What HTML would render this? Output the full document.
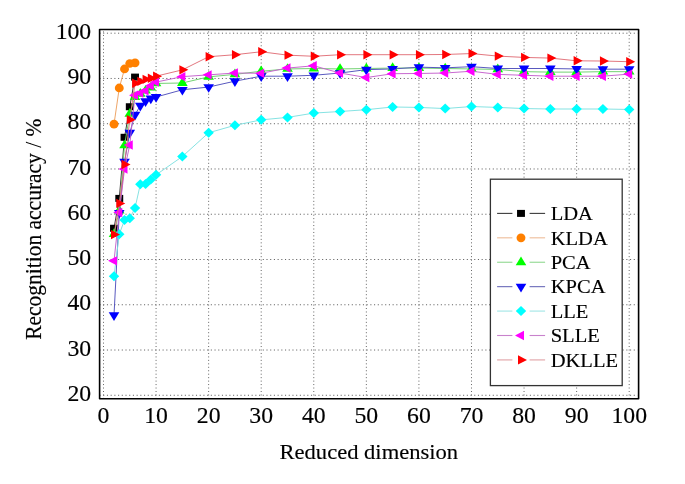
<!DOCTYPE html>
<html><head><meta charset="utf-8"><title>Recognition accuracy chart</title>
<style>html,body{margin:0;padding:0;background:#fff;width:685px;height:484px;overflow:hidden}svg{display:block;will-change:transform}text{font-family:"Liberation Serif",serif;fill:#000;stroke:#000;stroke-width:0.15px}</style></head><body>
<svg width="685" height="484" viewBox="0 0 685 484">
<rect width="685" height="484" fill="#fff"/>
<g stroke="#646464" stroke-width="1" fill="none">
<line x1="103.5" y1="398.9" x2="103.5" y2="30.5" stroke-dasharray="1 2.457"/>
<line x1="156.07" y1="398.9" x2="156.07" y2="30.5" stroke-dasharray="1 2.457"/>
<line x1="208.64" y1="398.9" x2="208.64" y2="30.5" stroke-dasharray="1 2.457"/>
<line x1="261.21" y1="398.9" x2="261.21" y2="30.5" stroke-dasharray="1 2.457"/>
<line x1="313.78" y1="398.9" x2="313.78" y2="30.5" stroke-dasharray="1 2.457"/>
<line x1="366.35" y1="398.9" x2="366.35" y2="30.5" stroke-dasharray="1 2.457"/>
<line x1="418.92" y1="398.9" x2="418.92" y2="30.5" stroke-dasharray="1 2.457"/>
<line x1="471.49" y1="398.9" x2="471.49" y2="30.5" stroke-dasharray="1 2.457"/>
<line x1="524.06" y1="398.9" x2="524.06" y2="30.5" stroke-dasharray="1 2.457"/>
<line x1="576.63" y1="398.9" x2="576.63" y2="30.5" stroke-dasharray="1 2.457"/>
<line x1="629.2" y1="398.9" x2="629.2" y2="30.5" stroke-dasharray="1 2.457"/>
<line x1="99.5" y1="395.28" x2="637.6" y2="395.28" stroke-dasharray="1.1 2.61"/>
<line x1="99.5" y1="350.02" x2="637.6" y2="350.02" stroke-dasharray="1.1 2.61"/>
<line x1="99.5" y1="304.76" x2="637.6" y2="304.76" stroke-dasharray="1.1 2.61"/>
<line x1="99.5" y1="259.5" x2="637.6" y2="259.5" stroke-dasharray="1.1 2.61"/>
<line x1="99.5" y1="214.24" x2="637.6" y2="214.24" stroke-dasharray="1.1 2.61"/>
<line x1="99.5" y1="168.98" x2="637.6" y2="168.98" stroke-dasharray="1.1 2.61"/>
<line x1="99.5" y1="123.72" x2="637.6" y2="123.72" stroke-dasharray="1.1 2.61"/>
<line x1="99.5" y1="78.46" x2="637.6" y2="78.46" stroke-dasharray="1.1 2.61"/>
<line x1="99.5" y1="33.2" x2="637.6" y2="33.2" stroke-dasharray="1.1 2.61"/>
</g>
<polyline points="114.01,228.27 119.27,198.4 124.53,137.3 129.78,106.75 135.04,77.1" fill="none" stroke="#303030" stroke-width="0.95" stroke-linejoin="round"/>
<rect x="110.06" y="224.77" width="7.9" height="7" fill="#000000"/>
<rect x="115.32" y="194.9" width="7.9" height="7" fill="#000000"/>
<rect x="120.58" y="133.8" width="7.9" height="7" fill="#000000"/>
<rect x="125.83" y="103.25" width="7.9" height="7" fill="#000000"/>
<rect x="131.09" y="73.6" width="7.9" height="7" fill="#000000"/>
<polyline points="114.01,124.17 119.27,87.96 124.53,68.96 129.78,63.52 135.04,62.85" fill="none" stroke="#eca060" stroke-width="0.95" stroke-linejoin="round"/>
<ellipse cx="114.01" cy="124.17" rx="4.45" ry="4.35" fill="#ff8000"/>
<ellipse cx="119.27" cy="87.96" rx="4.45" ry="4.35" fill="#ff8000"/>
<ellipse cx="124.53" cy="68.96" rx="4.45" ry="4.35" fill="#ff8000"/>
<ellipse cx="129.78" cy="63.52" rx="4.45" ry="4.35" fill="#ff8000"/>
<ellipse cx="135.04" cy="62.85" rx="4.45" ry="4.35" fill="#ff8000"/>
<polyline points="114.01,234.15 119.27,210.62 124.53,145.44 129.78,113.76 135.04,97.02 140.3,93.85 145.56,90.68 150.81,87.51 156.07,83.44 182.35,82.99 208.64,76.88 234.92,74.39 261.21,71.22 287.5,68.96 313.78,68.5 340.06,68.96 366.35,68.5 392.63,68.05 418.92,68.05 445.2,68.5 471.49,68.96 497.77,69.41 524.06,71.67 550.35,72.12 576.63,72.12 602.91,71.67 629.2,71.67" fill="none" stroke="#6cd06c" stroke-width="0.95" stroke-linejoin="round"/>
<polygon points="108.71,237.05 114.01,228.35 119.31,237.05" fill="#00ff00"/>
<polygon points="113.97,213.52 119.27,204.82 124.57,213.52" fill="#00ff00"/>
<polygon points="119.23,148.34 124.53,139.64 129.83,148.34" fill="#00ff00"/>
<polygon points="124.48,116.66 129.78,107.96 135.09,116.66" fill="#00ff00"/>
<polygon points="129.74,99.92 135.04,91.22 140.34,99.92" fill="#00ff00"/>
<polygon points="135,96.75 140.3,88.05 145.6,96.75" fill="#00ff00"/>
<polygon points="140.26,93.58 145.56,84.88 150.86,93.58" fill="#00ff00"/>
<polygon points="145.51,90.41 150.81,81.71 156.11,90.41" fill="#00ff00"/>
<polygon points="150.77,86.34 156.07,77.64 161.37,86.34" fill="#00ff00"/>
<polygon points="177.05,85.89 182.35,77.19 187.66,85.89" fill="#00ff00"/>
<polygon points="203.34,79.78 208.64,71.08 213.94,79.78" fill="#00ff00"/>
<polygon points="229.62,77.29 234.92,68.59 240.22,77.29" fill="#00ff00"/>
<polygon points="255.91,74.12 261.21,65.42 266.51,74.12" fill="#00ff00"/>
<polygon points="282.19,71.86 287.5,63.16 292.8,71.86" fill="#00ff00"/>
<polygon points="308.48,71.4 313.78,62.7 319.08,71.4" fill="#00ff00"/>
<polygon points="334.76,71.86 340.06,63.16 345.37,71.86" fill="#00ff00"/>
<polygon points="361.05,71.4 366.35,62.7 371.65,71.4" fill="#00ff00"/>
<polygon points="387.33,70.95 392.63,62.25 397.94,70.95" fill="#00ff00"/>
<polygon points="413.62,70.95 418.92,62.25 424.22,70.95" fill="#00ff00"/>
<polygon points="439.9,71.4 445.2,62.7 450.5,71.4" fill="#00ff00"/>
<polygon points="466.19,71.86 471.49,63.16 476.79,71.86" fill="#00ff00"/>
<polygon points="492.47,72.31 497.77,63.61 503.07,72.31" fill="#00ff00"/>
<polygon points="518.76,74.57 524.06,65.87 529.36,74.57" fill="#00ff00"/>
<polygon points="545.05,75.02 550.35,66.32 555.64,75.02" fill="#00ff00"/>
<polygon points="571.33,75.02 576.63,66.32 581.93,75.02" fill="#00ff00"/>
<polygon points="597.62,74.57 602.91,65.87 608.21,74.57" fill="#00ff00"/>
<polygon points="623.9,74.57 629.2,65.87 634.5,74.57" fill="#00ff00"/>
<polyline points="114.01,315.17 119.27,212.88 124.53,161.74 129.78,132.77 135.04,114.67 140.3,105.62 145.56,101.09 150.81,98.37 156.07,97.02 182.35,89.78 208.64,87.06 234.92,81.18 261.21,76.2 287.5,76.2 313.78,75.29 340.06,73.03 366.35,69.63 392.63,68.96 418.92,67.15 445.2,67.82 471.49,66.69 497.77,68.5 524.06,68.5 550.35,68.5 576.63,68.96 602.91,69.18 629.2,69.18" fill="none" stroke="#5050bc" stroke-width="0.95" stroke-linejoin="round"/>
<polygon points="108.71,312.27 114.01,320.97 119.31,312.27" fill="#0000ff"/>
<polygon points="113.97,209.98 119.27,218.68 124.57,209.98" fill="#0000ff"/>
<polygon points="119.23,158.84 124.53,167.54 129.83,158.84" fill="#0000ff"/>
<polygon points="124.48,129.87 129.78,138.57 135.09,129.87" fill="#0000ff"/>
<polygon points="129.74,111.77 135.04,120.47 140.34,111.77" fill="#0000ff"/>
<polygon points="135,102.72 140.3,111.42 145.6,102.72" fill="#0000ff"/>
<polygon points="140.26,98.19 145.56,106.89 150.86,98.19" fill="#0000ff"/>
<polygon points="145.51,95.47 150.81,104.17 156.11,95.47" fill="#0000ff"/>
<polygon points="150.77,94.12 156.07,102.82 161.37,94.12" fill="#0000ff"/>
<polygon points="177.05,86.88 182.35,95.58 187.66,86.88" fill="#0000ff"/>
<polygon points="203.34,84.16 208.64,92.86 213.94,84.16" fill="#0000ff"/>
<polygon points="229.62,78.28 234.92,86.98 240.22,78.28" fill="#0000ff"/>
<polygon points="255.91,73.3 261.21,82 266.51,73.3" fill="#0000ff"/>
<polygon points="282.19,73.3 287.5,82 292.8,73.3" fill="#0000ff"/>
<polygon points="308.48,72.39 313.78,81.09 319.08,72.39" fill="#0000ff"/>
<polygon points="334.76,70.13 340.06,78.83 345.37,70.13" fill="#0000ff"/>
<polygon points="361.05,66.73 366.35,75.43 371.65,66.73" fill="#0000ff"/>
<polygon points="387.33,66.06 392.63,74.76 397.94,66.06" fill="#0000ff"/>
<polygon points="413.62,64.25 418.92,72.95 424.22,64.25" fill="#0000ff"/>
<polygon points="439.9,64.92 445.2,73.62 450.5,64.92" fill="#0000ff"/>
<polygon points="466.19,63.79 471.49,72.49 476.79,63.79" fill="#0000ff"/>
<polygon points="492.47,65.6 497.77,74.3 503.07,65.6" fill="#0000ff"/>
<polygon points="518.76,65.6 524.06,74.3 529.36,65.6" fill="#0000ff"/>
<polygon points="545.05,65.6 550.35,74.3 555.64,65.6" fill="#0000ff"/>
<polygon points="571.33,66.06 576.63,74.76 581.93,66.06" fill="#0000ff"/>
<polygon points="597.62,66.28 602.91,74.98 608.21,66.28" fill="#0000ff"/>
<polygon points="623.9,66.28 629.2,74.98 634.5,66.28" fill="#0000ff"/>
<polyline points="114.01,276.25 119.27,234.15 124.53,220.12 129.78,218.31 135.04,207.9 140.3,184.37 145.56,183.92 150.81,179.39 156.07,174.86 182.35,156.49 208.64,132.77 234.92,125.3 261.21,119.87 287.5,117.38 313.78,113.08 340.06,111.5 366.35,109.69 392.63,106.97 418.92,107.43 445.2,108.56 471.49,106.52 497.77,107.43 524.06,108.56 550.35,109.01 576.63,109.01 602.91,109.01 629.2,109.46" fill="none" stroke="#80e0e0" stroke-width="0.95" stroke-linejoin="round"/>
<polygon points="114.01,271.25 119.21,276.25 114.01,281.25 108.81,276.25" fill="#00ffff"/>
<polygon points="119.27,229.15 124.47,234.15 119.27,239.15 114.07,234.15" fill="#00ffff"/>
<polygon points="124.53,215.12 129.73,220.12 124.53,225.12 119.33,220.12" fill="#00ffff"/>
<polygon points="129.78,213.31 134.98,218.31 129.78,223.31 124.58,218.31" fill="#00ffff"/>
<polygon points="135.04,202.9 140.24,207.9 135.04,212.9 129.84,207.9" fill="#00ffff"/>
<polygon points="140.3,179.37 145.5,184.37 140.3,189.37 135.1,184.37" fill="#00ffff"/>
<polygon points="145.56,178.92 150.76,183.92 145.56,188.92 140.36,183.92" fill="#00ffff"/>
<polygon points="150.81,174.39 156.01,179.39 150.81,184.39 145.61,179.39" fill="#00ffff"/>
<polygon points="156.07,169.86 161.27,174.86 156.07,179.86 150.87,174.86" fill="#00ffff"/>
<polygon points="182.35,151.49 187.55,156.49 182.35,161.49 177.16,156.49" fill="#00ffff"/>
<polygon points="208.64,127.77 213.84,132.77 208.64,137.77 203.44,132.77" fill="#00ffff"/>
<polygon points="234.92,120.3 240.12,125.3 234.92,130.3 229.72,125.3" fill="#00ffff"/>
<polygon points="261.21,114.87 266.41,119.87 261.21,124.87 256.01,119.87" fill="#00ffff"/>
<polygon points="287.5,112.38 292.69,117.38 287.5,122.38 282.3,117.38" fill="#00ffff"/>
<polygon points="313.78,108.08 318.98,113.08 313.78,118.08 308.58,113.08" fill="#00ffff"/>
<polygon points="340.06,106.5 345.26,111.5 340.06,116.5 334.87,111.5" fill="#00ffff"/>
<polygon points="366.35,104.69 371.55,109.69 366.35,114.69 361.15,109.69" fill="#00ffff"/>
<polygon points="392.63,101.97 397.83,106.97 392.63,111.97 387.44,106.97" fill="#00ffff"/>
<polygon points="418.92,102.43 424.12,107.43 418.92,112.43 413.72,107.43" fill="#00ffff"/>
<polygon points="445.2,103.56 450.4,108.56 445.2,113.56 440,108.56" fill="#00ffff"/>
<polygon points="471.49,101.52 476.69,106.52 471.49,111.52 466.29,106.52" fill="#00ffff"/>
<polygon points="497.77,102.43 502.97,107.43 497.77,112.43 492.57,107.43" fill="#00ffff"/>
<polygon points="524.06,103.56 529.26,108.56 524.06,113.56 518.86,108.56" fill="#00ffff"/>
<polygon points="550.35,104.01 555.55,109.01 550.35,114.01 545.14,109.01" fill="#00ffff"/>
<polygon points="576.63,104.01 581.83,109.01 576.63,114.01 571.43,109.01" fill="#00ffff"/>
<polygon points="602.91,104.01 608.12,109.01 602.91,114.01 597.71,109.01" fill="#00ffff"/>
<polygon points="629.2,104.46 634.4,109.46 629.2,114.46 624,109.46" fill="#00ffff"/>
<polyline points="114.01,260.86 119.27,212.43 124.53,168.98 129.78,144.99 135.04,95.21 140.3,93.17 145.56,90.68 150.81,85.7 156.07,82.08 182.35,76.65 208.64,74.84 234.92,73.03 261.21,73.26 287.5,68.05 313.78,65.79 340.06,73.03 366.35,77.55 392.63,73.71 418.92,73.48 445.2,73.03 471.49,71.22 497.77,74.39 524.06,75.29 550.35,76.2 576.63,76.2 602.91,76.2 629.2,74.12" fill="none" stroke="#c460cc" stroke-width="0.95" stroke-linejoin="round"/>
<polygon points="117.01,256.16 108.01,260.86 117.01,265.56" fill="#ff00ff"/>
<polygon points="122.27,207.73 113.27,212.43 122.27,217.13" fill="#ff00ff"/>
<polygon points="127.53,164.28 118.53,168.98 127.53,173.68" fill="#ff00ff"/>
<polygon points="132.78,140.29 123.78,144.99 132.78,149.69" fill="#ff00ff"/>
<polygon points="138.04,90.51 129.04,95.21 138.04,99.91" fill="#ff00ff"/>
<polygon points="143.3,88.47 134.3,93.17 143.3,97.87" fill="#ff00ff"/>
<polygon points="148.56,85.98 139.56,90.68 148.56,95.38" fill="#ff00ff"/>
<polygon points="153.81,81 144.81,85.7 153.81,90.4" fill="#ff00ff"/>
<polygon points="159.07,77.38 150.07,82.08 159.07,86.78" fill="#ff00ff"/>
<polygon points="185.35,71.95 176.35,76.65 185.35,81.35" fill="#ff00ff"/>
<polygon points="211.64,70.14 202.64,74.84 211.64,79.54" fill="#ff00ff"/>
<polygon points="237.92,68.33 228.92,73.03 237.92,77.73" fill="#ff00ff"/>
<polygon points="264.21,68.56 255.21,73.26 264.21,77.96" fill="#ff00ff"/>
<polygon points="290.5,63.35 281.5,68.05 290.5,72.75" fill="#ff00ff"/>
<polygon points="316.78,61.09 307.78,65.79 316.78,70.49" fill="#ff00ff"/>
<polygon points="343.06,68.33 334.06,73.03 343.06,77.73" fill="#ff00ff"/>
<polygon points="369.35,72.85 360.35,77.55 369.35,82.25" fill="#ff00ff"/>
<polygon points="395.63,69.01 386.63,73.71 395.63,78.41" fill="#ff00ff"/>
<polygon points="421.92,68.78 412.92,73.48 421.92,78.18" fill="#ff00ff"/>
<polygon points="448.2,68.33 439.2,73.03 448.2,77.73" fill="#ff00ff"/>
<polygon points="474.49,66.52 465.49,71.22 474.49,75.92" fill="#ff00ff"/>
<polygon points="500.77,69.69 491.77,74.39 500.77,79.09" fill="#ff00ff"/>
<polygon points="527.06,70.59 518.06,75.29 527.06,79.99" fill="#ff00ff"/>
<polygon points="553.35,71.5 544.35,76.2 553.35,80.9" fill="#ff00ff"/>
<polygon points="579.63,71.5 570.63,76.2 579.63,80.9" fill="#ff00ff"/>
<polygon points="605.91,71.5 596.91,76.2 605.91,80.9" fill="#ff00ff"/>
<polygon points="632.2,69.42 623.2,74.12 632.2,78.82" fill="#ff00ff"/>
<polyline points="114.01,234.61 119.27,203.38 124.53,164.45 129.78,119.65 135.04,83.21 140.3,81.4 145.56,79.37 150.81,78.23 156.07,76.2 182.35,69.86 208.64,56.74 234.92,54.7 261.21,51.76 287.5,55.15 313.78,56.28 340.06,54.7 366.35,54.7 392.63,54.7 418.92,54.7 445.2,54.47 471.49,53.57 497.77,56.1 524.06,57.41 550.35,58.09 576.63,60.81 602.91,61.03 629.2,61.71" fill="none" stroke="#e07078" stroke-width="0.95" stroke-linejoin="round"/>
<polygon points="111.01,229.91 120.01,234.61 111.01,239.31" fill="#ff0000"/>
<polygon points="116.27,198.68 125.27,203.38 116.27,208.08" fill="#ff0000"/>
<polygon points="121.53,159.75 130.53,164.45 121.53,169.15" fill="#ff0000"/>
<polygon points="126.78,114.95 135.78,119.65 126.78,124.35" fill="#ff0000"/>
<polygon points="132.04,78.51 141.04,83.21 132.04,87.91" fill="#ff0000"/>
<polygon points="137.3,76.7 146.3,81.4 137.3,86.1" fill="#ff0000"/>
<polygon points="142.56,74.67 151.56,79.37 142.56,84.07" fill="#ff0000"/>
<polygon points="147.81,73.53 156.81,78.23 147.81,82.93" fill="#ff0000"/>
<polygon points="153.07,71.5 162.07,76.2 153.07,80.9" fill="#ff0000"/>
<polygon points="179.35,65.16 188.35,69.86 179.35,74.56" fill="#ff0000"/>
<polygon points="205.64,52.04 214.64,56.74 205.64,61.44" fill="#ff0000"/>
<polygon points="231.92,50 240.92,54.7 231.92,59.4" fill="#ff0000"/>
<polygon points="258.21,47.06 267.21,51.76 258.21,56.46" fill="#ff0000"/>
<polygon points="284.5,50.45 293.5,55.15 284.5,59.85" fill="#ff0000"/>
<polygon points="310.78,51.58 319.78,56.28 310.78,60.98" fill="#ff0000"/>
<polygon points="337.06,50 346.06,54.7 337.06,59.4" fill="#ff0000"/>
<polygon points="363.35,50 372.35,54.7 363.35,59.4" fill="#ff0000"/>
<polygon points="389.63,50 398.63,54.7 389.63,59.4" fill="#ff0000"/>
<polygon points="415.92,50 424.92,54.7 415.92,59.4" fill="#ff0000"/>
<polygon points="442.2,49.77 451.2,54.47 442.2,59.17" fill="#ff0000"/>
<polygon points="468.49,48.87 477.49,53.57 468.49,58.27" fill="#ff0000"/>
<polygon points="494.77,51.4 503.77,56.1 494.77,60.8" fill="#ff0000"/>
<polygon points="521.06,52.71 530.06,57.41 521.06,62.11" fill="#ff0000"/>
<polygon points="547.35,53.39 556.35,58.09 547.35,62.79" fill="#ff0000"/>
<polygon points="573.63,56.11 582.63,60.81 573.63,65.51" fill="#ff0000"/>
<polygon points="599.91,56.33 608.91,61.03 599.91,65.73" fill="#ff0000"/>
<polygon points="626.2,57.01 635.2,61.71 626.2,66.41" fill="#ff0000"/>
<rect x="99.6" y="29.5" width="539" height="369.3" fill="none" stroke="#000" stroke-width="1.6" stroke-linejoin="round"/>
<text transform="translate(103.5 423) scale(1.05 1)" font-size="22.6" text-anchor="middle">0</text>
<text transform="translate(156.07 423) scale(1.05 1)" font-size="22.6" text-anchor="middle">10</text>
<text transform="translate(208.64 423) scale(1.05 1)" font-size="22.6" text-anchor="middle">20</text>
<text transform="translate(261.21 423) scale(1.05 1)" font-size="22.6" text-anchor="middle">30</text>
<text transform="translate(313.78 423) scale(1.05 1)" font-size="22.6" text-anchor="middle">40</text>
<text transform="translate(366.35 423) scale(1.05 1)" font-size="22.6" text-anchor="middle">50</text>
<text transform="translate(418.92 423) scale(1.05 1)" font-size="22.6" text-anchor="middle">60</text>
<text transform="translate(471.49 423) scale(1.05 1)" font-size="22.6" text-anchor="middle">70</text>
<text transform="translate(524.06 423) scale(1.05 1)" font-size="22.6" text-anchor="middle">80</text>
<text transform="translate(576.63 423) scale(1.05 1)" font-size="22.6" text-anchor="middle">90</text>
<text transform="translate(629.2 423) scale(1.05 1)" font-size="22.6" text-anchor="middle">100</text>
<text transform="translate(91.2 400.88) scale(1.05 1)" font-size="22.6" text-anchor="end">20</text>
<text transform="translate(91.2 355.62) scale(1.05 1)" font-size="22.6" text-anchor="end">30</text>
<text transform="translate(91.2 310.36) scale(1.05 1)" font-size="22.6" text-anchor="end">40</text>
<text transform="translate(91.2 265.1) scale(1.05 1)" font-size="22.6" text-anchor="end">50</text>
<text transform="translate(91.2 219.84) scale(1.05 1)" font-size="22.6" text-anchor="end">60</text>
<text transform="translate(91.2 174.58) scale(1.05 1)" font-size="22.6" text-anchor="end">70</text>
<text transform="translate(91.2 129.32) scale(1.05 1)" font-size="22.6" text-anchor="end">80</text>
<text transform="translate(91.2 84.06) scale(1.05 1)" font-size="22.6" text-anchor="end">90</text>
<text transform="translate(91.2 38.8) scale(1.05 1)" font-size="22.6" text-anchor="end">100</text>
<text transform="translate(368.8 458.7) scale(1.06 1)" font-size="21.3" text-anchor="middle">Reduced dimension</text>
<text transform="translate(40.7 229.2) scale(1.06 1) rotate(-90)" font-size="21.5" text-anchor="middle">Recognition accuracy / %</text>
<rect x="490.4" y="179.2" width="131.8" height="206.4" fill="#fff" stroke="#333" stroke-width="1.3"/>
<line x1="497.1" y1="213.4" x2="512.4" y2="213.4" stroke="#3c3c3c" stroke-width="1.1"/>
<line x1="529.6" y1="213.4" x2="545.1" y2="213.4" stroke="#3c3c3c" stroke-width="1.1"/>
<rect x="517.05" y="209.9" width="7.9" height="7" fill="#000000"/>
<text transform="translate(550.7 220.1) scale(1.065 1)" font-size="19.3">LDA</text>
<line x1="497.1" y1="237.82" x2="512.4" y2="237.82" stroke="#eebc98" stroke-width="1.1"/>
<line x1="529.6" y1="237.82" x2="545.1" y2="237.82" stroke="#eebc98" stroke-width="1.1"/>
<ellipse cx="521" cy="237.82" rx="4.45" ry="4.35" fill="#ff8000"/>
<text transform="translate(550.7 244.52) scale(1.065 1)" font-size="19.3">KLDA</text>
<line x1="497.1" y1="262.24" x2="512.4" y2="262.24" stroke="#90d890" stroke-width="1.1"/>
<line x1="529.6" y1="262.24" x2="545.1" y2="262.24" stroke="#90d890" stroke-width="1.1"/>
<polygon points="515.7,265.14 521,256.44 526.3,265.14" fill="#00ff00"/>
<text transform="translate(550.7 268.94) scale(1.065 1)" font-size="19.3">PCA</text>
<line x1="497.1" y1="286.66" x2="512.4" y2="286.66" stroke="#6a6ab8" stroke-width="1.1"/>
<line x1="529.6" y1="286.66" x2="545.1" y2="286.66" stroke="#6a6ab8" stroke-width="1.1"/>
<polygon points="515.7,283.76 521,292.46 526.3,283.76" fill="#0000ff"/>
<text transform="translate(550.7 293.36) scale(1.065 1)" font-size="19.3">KPCA</text>
<line x1="497.1" y1="311.08" x2="512.4" y2="311.08" stroke="#a0e6e6" stroke-width="1.1"/>
<line x1="529.6" y1="311.08" x2="545.1" y2="311.08" stroke="#a0e6e6" stroke-width="1.1"/>
<polygon points="521,306.08 526.2,311.08 521,316.08 515.8,311.08" fill="#00ffff"/>
<text transform="translate(550.7 317.78) scale(1.065 1)" font-size="19.3">LLE</text>
<line x1="497.1" y1="335.5" x2="512.4" y2="335.5" stroke="#c882cc" stroke-width="1.1"/>
<line x1="529.6" y1="335.5" x2="545.1" y2="335.5" stroke="#c882cc" stroke-width="1.1"/>
<polygon points="524,330.8 515,335.5 524,340.2" fill="#ff00ff"/>
<text transform="translate(550.7 342.2) scale(1.065 1)" font-size="19.3">SLLE</text>
<line x1="497.1" y1="359.92" x2="512.4" y2="359.92" stroke="#e0a0a4" stroke-width="1.1"/>
<line x1="529.6" y1="359.92" x2="545.1" y2="359.92" stroke="#e0a0a4" stroke-width="1.1"/>
<polygon points="518,355.22 527,359.92 518,364.62" fill="#ff0000"/>
<text transform="translate(550.7 366.62) scale(1.065 1)" font-size="19.3">DKLLE</text>
</svg></body></html>
